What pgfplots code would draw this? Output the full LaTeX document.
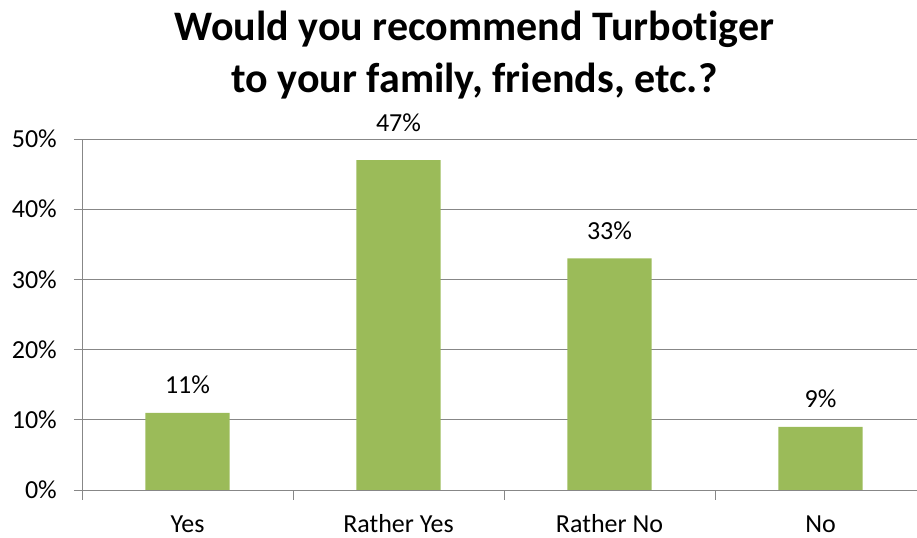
\documentclass[border=0pt]{standalone}
\usepackage{pgfplots}
\pgfplotsset{compat=1.18}
\usepackage{fontspec}
\setmainfont{Carlito}[Ligatures={NoCommon}]
\definecolor{barg}{HTML}{9BBB59}
\definecolor{gridg}{HTML}{878787}
\begin{document}
\begin{tikzpicture}[x=1bp,y=1bp]
\path[use as bounding box] (-82,-48) rectangle (835,490);
\begin{axis}[
  at={(0,0)}, anchor=south west,
  scale only axis, width=844bp, height=351bp,
  xmin=-0.5, xmax=3.5, ymin=0, ymax=50,
  axis lines*=left,
  axis line style={draw=gridg, line width=0.8bp},
  clip=false,
  ytick={0,10,20,30,40,50},
  yticklabels={0\%,10\%,20\%,30\%,40\%,50\%},
  ymajorgrids,
  grid style={draw=gridg, line width=0.8bp},
  xtick={0,1,2,3},
  xticklabels={Yes,Rather Yes,Rather No,No},
  minor xtick={-0.5,0.5,1.5,2.5,3.5},
  tick align=outside,
  major tick length=8bp,
  minor tick length=10bp,
  tick style={draw=gridg, line width=0.8bp},
  major x tick style={draw=none},
  yticklabel style={anchor=east, inner sep=0pt, xshift=-17bp, font=\fontsize{26bp}{31bp}\selectfont},
  xticklabel style={anchor=base, inner sep=0pt, yshift=-34.5bp, font=\fontsize{26bp}{31bp}\selectfont},
]
\addplot[ybar, bar width=0.4, fill=barg, draw=none] coordinates {(0,11) (1,47) (2,33) (3,9)};
\addplot[draw=none, mark=none, forget plot, nodes near coords, point meta=explicit symbolic,
  every node near coord/.append style={anchor=base, yshift=19bp, inner sep=0pt, font=\fontsize{26bp}{31bp}\selectfont}]
  coordinates {(0,11) [11\%] (2,33) [33\%] (3,9) [9\%]};
\addplot[draw=none, mark=none, forget plot, nodes near coords, point meta=explicit symbolic,
  every node near coord/.append style={anchor=base, yshift=29bp, inner sep=0pt, font=\fontsize{26bp}{31bp}\selectfont}]
  coordinates {(1,47) [47\%]};
\end{axis}
\node[anchor=base, inner sep=0pt, font=\fontsize{42bp}{52bp}\selectfont\bfseries] at (392.5,449) {Would you recommend Turbotiger};
\node[anchor=base, inner sep=0pt, font=\fontsize{42bp}{52bp}\selectfont\bfseries] at (392.5,397) {to your family, friends, etc.?};
\end{tikzpicture}
\end{document}
